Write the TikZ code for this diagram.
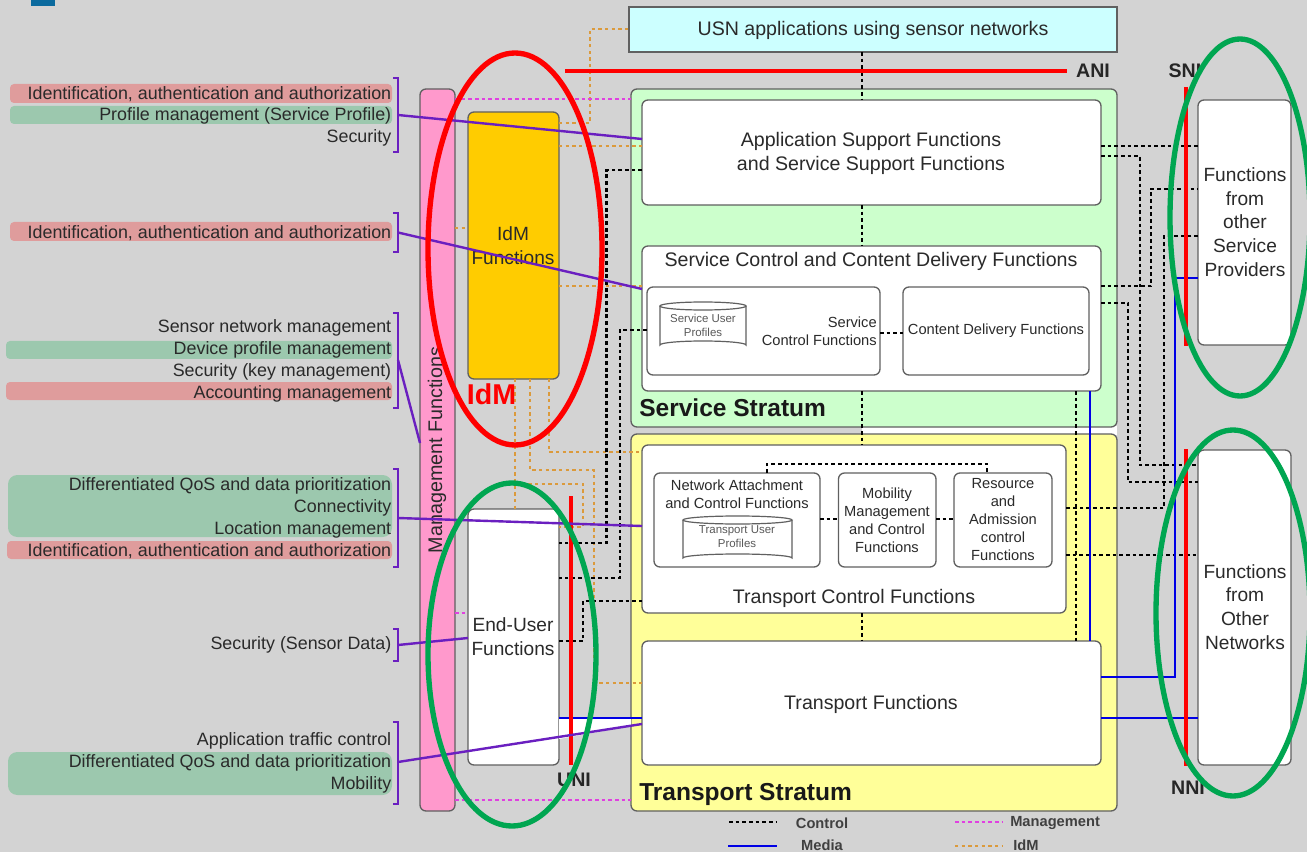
\documentclass[tikz,border=0pt]{standalone}
\usepackage{fontspec}
\setmainfont{Liberation Sans}
\definecolor{bgc}{HTML}{D3D3D3}
\definecolor{corner}{HTML}{0B6A9E}
\definecolor{pinkbar}{HTML}{DF9C9C}
\definecolor{greenbar}{HTML}{9CC8AE}
\definecolor{mgmt}{HTML}{FF99CC}
\definecolor{idmy}{HTML}{FFCC00}
\definecolor{svc}{HTML}{CCFFCC}
\definecolor{trn}{HTML}{FFFF99}
\definecolor{usn}{HTML}{CCFFFF}
\definecolor{idmline}{HTML}{DB9A3C}
\definecolor{mgline}{HTML}{E040E0}
\definecolor{purp}{HTML}{6A1FC0}
\definecolor{grn}{HTML}{00A651}
\definecolor{edge}{HTML}{606060}
\definecolor{txt}{HTML}{2A2A2A}
\newcommand{\pbox}[7]{%
  \pgfmathsetmacro\pw{(#5-#3)*0.75}\pgfmathsetmacro\ph{(#6-#4)*0.75}%
  \node[#1,minimum width=\pw pt,minimum height=\ph pt,anchor=north west] (#2) at (#3,#4) {#7};}
\newcommand{\lab}[3]{\node[lefttext,anchor=east] (#1) at (391.5,#2) {#3};}
\newcommand{\pbrack}[3]{\draw[brk] (393,#2) -- (398,#2) -- (398,#3) -- (393,#3);\coordinate (#1) at (398,{(#2+#3)/2});}
\newcommand{\cyl}[4]{%
  \draw[edge,line width=0.9pt,fill=white] (#1,#2) -- (#1,#4) arc[start angle=180,end angle=360,x radius={(#3-#1)/2},y radius=4] -- (#3,#2);
  \draw[edge,line width=0.9pt,fill=white] ({(#1+#3)/2},#2) ellipse[x radius={(#3-#1)/2},y radius=4];}
\tikzset{
  rbox/.style={draw=edge,line width=1pt,rounded corners=4.5pt,inner sep=0pt,outer sep=0pt,align=center,text=txt,font=\fontsize{14.7}{18}\selectfont},
  whitebox/.style={rbox,fill=white},
  lefttext/.style={inner sep=0pt,text=txt,font=\fontsize{13.4}{15}\selectfont},
  plain/.style={inner sep=0pt,text=txt,align=center,font=\fontsize{14.7}{18}\selectfont},
  narrow/.style={inner sep=0pt,text=txt,align=center,font=\fontsize{14.35}{17.8}\selectfont},
  small/.style={inner sep=0pt,text=txt,align=center,font=\fontsize{11}{13.4}\selectfont},
  tiny/.style={inner sep=0pt,text=black!65,align=center,font=\fontsize{8.6}{10.5}\selectfont},
  ctrl/.style={black,line width=2pt,dash pattern=on 2.8pt off 2.2pt},
  idml/.style={idmline,line width=2pt,dash pattern=on 2.5pt off 2.5pt},
  mgl/.style={mgline,line width=2pt,dash pattern=on 2.8pt off 2.2pt},
  media/.style={blue!90!black,line width=2.2pt},
  ifl/.style={red,line width=2.5pt},
  purpl/.style={purp,line width=1.8pt},
  brk/.style={purp,line width=1.3pt},
  oval/.style={line width=4pt},
  bar/.style={rounded corners=3pt},
  boldlab/.style={inner sep=0pt,font=\fontsize{14.7}{15}\bfseries\selectfont,text=black!85},
  strat/.style={inner sep=0pt,anchor=west,font=\fontsize{18.4}{20}\bfseries\selectfont,text=black!90},
  legend/.style={inner sep=0pt,text=black!75,font=\fontsize{11}{12}\bfseries\selectfont},
}
\begin{document}
\begin{tikzpicture}[x=0.75pt,y=-0.75pt]
\useasboundingbox (0,0) rectangle (1307,852);
\fill[bgc] (0,0) rectangle (1307,852);
\fill[corner] (31,0) rectangle (55,6);
% highlight bars
\fill[pinkbar,bar] (10,84) rectangle (392,103);
\fill[greenbar,bar] (10,106) rectangle (392,124);
\fill[pinkbar,bar] (10,222) rectangle (392,241);
\fill[greenbar,bar] (6,341) rectangle (392,359);
\fill[pinkbar,bar] (6,382) rectangle (392,400);
\fill[greenbar,rounded corners=7pt] (8,475) rectangle (392,537);
\fill[pinkbar,bar] (7,541) rectangle (392,559);
\fill[greenbar,rounded corners=7pt] (8,752) rectangle (392,795);
% left labels
\lab{l1}{94}{Identification, authentication and authorization}
\lab{l2}{116}{Profile management (Service Profile)}
\lab{l3}{137.5}{Security}
\lab{l4}{233}{Identification, authentication and authorization}
\lab{l5}{328}{Sensor network management}
\lab{l6}{350}{Device profile management}
\lab{l7}{372}{Security (key management)}
\lab{l8}{394}{Accounting management}
\lab{l9}{486}{Differentiated QoS and data prioritization}
\lab{l10}{508}{Connectivity}
\lab{l11}{530}{Location management}
\lab{l12}{551}{Identification, authentication and authorization}
\lab{l13}{645}{Security (Sensor Data)}
\lab{l14}{741}{Application traffic control}
\lab{l15}{763}{Differentiated QoS and data prioritization}
\lab{l16}{785}{Mobility}
% brackets
\pbrack{b1}{78}{152}
\pbrack{b2}{213}{252}
\pbrack{b3}{313}{408}
\pbrack{b4}{469}{567}
\pbrack{b5}{629}{661}
\pbrack{b6}{722}{804}
\coordinate (b1p) at (398,115);
\coordinate (b3p) at (398,360);
\coordinate (b4p) at (398,518);
\coordinate (b5p) at (398,645);
\coordinate (b6p) at (398,762);
% main containers
\pbox{rbox,fill=usn,rounded corners=0pt}{usnb}{629}{7}{1117}{52}{}
\node[plain] (usnt) at (873,30) {USN applications using sensor networks};
\pbox{rbox,fill=white,draw=none,rounded corners=0pt}{gap}{862}{426}{1117}{435}{}
\pbox{rbox,fill=svc}{ss}{631}{89}{1117}{427}{}
\pbox{rbox,fill=trn}{ts}{631}{434}{1117}{811}{}
\pbox{rbox,fill=mgmt}{mg}{420}{89}{455}{811}{}
\node[rotate=90,inner sep=0pt,text=txt,font=\fontsize{14.8}{16}\selectfont] (mgt) at (437,450) {Management Functions};
\pbox{rbox,fill=idmy}{idm}{468}{112}{559}{379}{}
\node[narrow] (idmt) at (513,245.5) {IdM\\Functions};
\pbox{whitebox}{eu}{468}{509}{559}{765}{}
\node[narrow] (eut) at (513,636.5) {End-User\\Functions};
\pbox{whitebox}{asf}{642}{100}{1101}{205}{}
\node[plain] (asft) at (871,153) {Application Support Functions\\and Service Support Functions};
\pbox{whitebox}{scd}{642}{246}{1101}{391}{}
\node[plain] (scdt) at (871,261) {Service Control and Content Delivery Functions};
\pbox{whitebox}{sc}{647}{287}{880}{375}{}
\pbox{whitebox}{cd}{903}{287}{1089}{375}{}
\node[small] (cdt) at (996,331) {Content Delivery Functions};
\node[small,anchor=east,align=right] (sct) at (877,331) {Service\\Control Functions};
\cyl{660}{306}{746}{345}
\node[tiny] (supt) at (703,325) {Service User\\Profiles};
\pbox{whitebox}{tc}{642}{445}{1066}{613}{}
\node[plain] (tct) at (854,598) {Transport Control Functions};
\pbox{whitebox}{na}{654}{473}{820}{567}{}
\node[small] (nat) at (737,494.5) {Network Attachment\\and Control Functions};
\cyl{683}{520}{792}{558}
\node[tiny] (tupt) at (737,537) {Transport User\\Profiles};
\pbox{whitebox}{mm}{838.5}{473}{936}{567}{}
\node[small] (mmt) at (887,520) {Mobility\\Management\\and Control\\Functions};
\pbox{whitebox}{ra}{954}{473}{1052}{567}{}
\node[small] (rat) at (1003,519.5) {Resource\\and\\Admission\\control\\Functions};
\pbox{whitebox}{tf}{642}{641}{1101}{765}{}
\node[plain] (tft) at (871,704) {Transport Functions};
\pbox{whitebox}{fs}{1198}{100}{1291}{345}{}
\node[narrow] (fst) at (1245,222) {Functions\\from\\other\\Service\\Providers};
\pbox{whitebox}{fn}{1198}{450}{1291}{765}{}
\node[narrow] (fnt) at (1245,607) {Functions\\from\\Other\\Networks};
\node[strat] (sst) at (639,408) {Service Stratum};
\node[strat] (tst) at (639,794) {Transport Stratum};
% white wedge between End-User and Transport Functions
\fill[white] (559,718) -- (631,718) -- (631,726) -- (559,739) -- cycle;
% IdM connectors
\coordinate (i1) at (515,484);
\draw[idml] (idm.east |- 0,123) -| (590,29) -- (usnb.west |- 0,29);
\draw[idml] (idm.east |- 0,146) -- (asf.west |- 0,146);
\draw[idml] (idm.east |- 0,286) -- (scd.west |- 0,286);
\draw[idml] (mg.east |- 0,228) -- (idm.west |- 0,228);
\draw[idml] (idm.south -| 515,0) -- (eu.north -| 515,0);
\draw[idml] (i1) -| (583,527) -- (eu.east |- 0,527);
\draw[idml] (idm.south -| 530,0) |- (594,470) |- (tf.west |- 0,683);
\draw[idml] (idm.south -| 549,0) |- (tc.west |- 0,452);
% Management connectors
\draw[mgl] (mg.east |- 0,99) -- (ss.west |- 0,99);
\draw[mgl] (mg.east |- 0,613) -- (eu.west |- 0,613);
\draw[mgl] (mg.east |- 0,800) -- (ts.west |- 0,800);
% Control connectors
\draw[ctrl] (usnb.south -| 862,0) -- (asf.north -| 862,0);
\draw[ctrl] (asf.south -| 862,0) -- (scd.north -| 862,0);
\draw[ctrl] (scd.south -| 862,0) -- (tc.north -| 862,0);
\draw[ctrl] (tc.south -| 862,0) -- (tf.north -| 862,0);
\draw[ctrl] (sc.east |- 0,333) -- (cd.west |- 0,333);
\draw[ctrl] (na.east |- 0,519) -- (mm.west |- 0,519);
\draw[ctrl] (mm.east |- 0,519) -- (ra.west |- 0,519);
\draw[ctrl] (na.north -| 767,0) |- (987,464) -- (ra.north -| 987,0);
\draw[ctrl] (asf.west |- 0,170) -| (606.5,543) -- (eu.east |- 0,543);
\draw[ctrl] (sc.west |- 0,330) -| (620,578) -- (eu.east |- 0,578);
\draw[ctrl] (eu.east |- 0,641) -| (583,601) -- (tc.west |- 0,601);
\draw[ctrl] (scd.south -| 1076,0) -- (tf.north -| 1076,0);
\draw[ctrl] (asf.east |- 0,146) -- (fs.west |- 0,146);
\draw[ctrl] (asf.east |- 0,156) -| (1140,465) -- (fn.west |- 0,465);
\draw[ctrl] (scd.east |- 0,286) -| (1151,189) -- (fs.west |- 0,189);
\draw[ctrl] (scd.east |- 0,303) -| (1128,482) -- (fn.west |- 0,482);
\draw[ctrl] (fs.west |- 0,236) -| (1164,508) -- (tc.east |- 0,508);
\draw[ctrl] (tc.east |- 0,555) -- (fn.west |- 0,555);
% Media connectors
\draw[media] (scd.south -| 1090,0) -- (tf.north -| 1090,0);
\draw[media] (tf.east |- 0,677) -| (1175,278) -- (fs.west |- 0,278);
\draw[media] (tf.east |- 0,718) -- (fn.west |- 0,718);
\draw[media] (eu.east |- 0,718) -- (tf.west |- 0,718);
% interface lines
\draw[ifl] (565,71) -- (1067,71);
\draw[ifl] (1186,87) -- (1186,346);
\draw[ifl] (1186,449) -- (1186,766);
\draw[ifl] (571,496) -- (571,765);
\node[boldlab] (ani) at (1093,71) {ANI};
\node[boldlab] (sni) at (1185,71) {SNI};
\node[boldlab] (uni) at (574,780) {UNI};
\node[boldlab] (nni) at (1188,788) {NNI};
% purple links
\draw[purpl] (b1p) -- (asf.west |- 0,139);
\draw[purpl] (b2) -- (scd.west |- 0,289);
\draw[purpl] (b3p) -- (mg.west |- 0,443);
\draw[purpl] (b4p) -- (tc.west |- 0,526);
\draw[purpl] (b5p) -- (eu.west |- 0,638);
\draw[purpl] (b6p) -- (tf.west |- 0,724);
% ovals
\draw[red,oval] (515,249) ellipse[x radius=87,y radius=196];
\draw[grn,oval] (512,654.5) ellipse[x radius=84,y radius=171.5];
\draw[grn,oval] (1240,217.5) ellipse[x radius=70,y radius=178.5];
\draw[grn,oval] (1233,613) ellipse[x radius=77,y radius=183];
\node[inner sep=0pt,text=red,font=\fontsize{21.5}{24}\bfseries\selectfont] (idml2) at (491.5,394) {IdM};
% legend
\coordinate (k1a) at (729,822); \coordinate (k1b) at (777,822);
\coordinate (k2a) at (728,846); \coordinate (k2b) at (777,846);
\coordinate (k3a) at (955,822); \coordinate (k3b) at (1003,822);
\coordinate (k4a) at (955,846); \coordinate (k4b) at (1003,846);
\draw[ctrl] (k1a) -- (k1b);
\draw[media] (k2a) -- (k2b);
\draw[mgl] (k3a) -- (k3b);
\draw[idml] (k4a) -- (k4b);
\node[legend] (kc) at (822,823) {Control};
\node[legend] (km) at (822,845.5) {Media};
\node[legend,anchor=west] (kg) at (1010,823) {Management};
\node[legend,anchor=west] (ki) at (1013,845.5) {IdM};
\end{tikzpicture}
\end{document}
